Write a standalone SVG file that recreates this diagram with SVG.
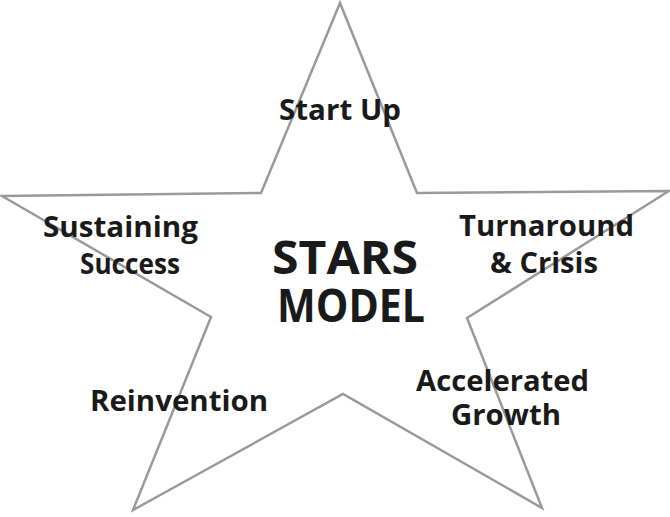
<svg xmlns="http://www.w3.org/2000/svg" width="670" height="517" viewBox="0 0 670 517">
<style>
.lbl{font-family:"Open Sans","Liberation Sans",sans-serif;font-weight:700;fill:#1a1a1a;text-anchor:middle}
.sm{font-size:28px}
.big{font-size:47px}
.star{fill:#fff;stroke:#9a9a9a;stroke-width:2.5;stroke-linejoin:miter}
</style>
<rect width="670" height="517" fill="#fff"/>
<g id="star">
<polygon class="star" points="340,3 417,193 669,191 467,318 542,508 343,394 133,510 211,317 2,196 261,193"/>
</g>
<g id="connectors"></g>
<g id="center"><text class="lbl big" x="345" y="274" textLength="146" lengthAdjust="spacingAndGlyphs">STARS</text><text class="lbl big" x="351" y="322" textLength="148" lengthAdjust="spacingAndGlyphs">MODEL</text></g>
<g id="startup"><text class="lbl sm" x="340" y="120" textLength="122" lengthAdjust="spacingAndGlyphs">Start Up</text></g>
<g id="sustaining"><text class="lbl sm" x="120.5" y="237" textLength="155" lengthAdjust="spacingAndGlyphs">Sustaining</text><text class="lbl sm" x="130" y="274" textLength="100" lengthAdjust="spacingAndGlyphs">Success</text></g>
<g id="turnaround"><text class="lbl sm" x="546.5" y="236" textLength="175" lengthAdjust="spacingAndGlyphs">Turnaround</text><text class="lbl sm" x="544" y="273" textLength="108" lengthAdjust="spacingAndGlyphs">&amp; Crisis</text></g>
<g id="reinvention"><text class="lbl sm" x="179" y="411" textLength="178" lengthAdjust="spacingAndGlyphs">Reinvention</text></g>
<g id="accelerated"><text class="lbl sm" x="502.5" y="391" textLength="173" lengthAdjust="spacingAndGlyphs">Accelerated</text><text class="lbl sm" x="506" y="425" textLength="110" lengthAdjust="spacingAndGlyphs">Growth</text></g>
</svg>
